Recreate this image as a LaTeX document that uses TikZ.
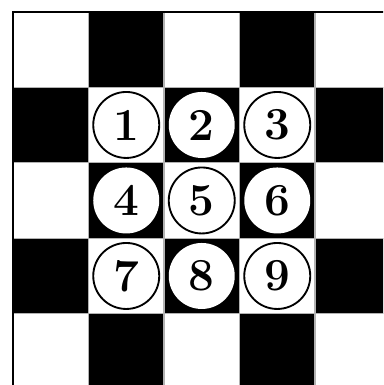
\documentclass[tikz,border=0pt]{standalone}
\usetikzlibrary{positioning}
\tikzset{
  darkcell/.style={fill=black},
  lightcell/.style={fill=white},
  gridline/.style={draw=gray!60,line width=0.4pt},
  frame/.style={draw=black,line width=0.7pt},
  ring/.style={circle,draw=black,fill=white,line width=0.7pt,minimum size=0.874cm,
    inner sep=0pt,font=\LARGE\bfseries},
  hole/.style={circle,fill=white,minimum size=0.874cm,inner sep=0pt,
    font=\LARGE\bfseries}
}

\begin{document}
\begin{tikzpicture}

\useasboundingbox (-0.172,0.056) rectangle (4.901,5.155);
\clip (-0.172,0.056) rectangle (4.901,5.155);

% board squares
\foreach \i in {0,...,4}{
  \foreach \j in {0,...,4}{
    \pgfmathtruncatemacro{\odd}{mod(\i+\j,2)}
    \ifnum\odd=1
      \fill[darkcell] (\j,4-\i) rectangle ++(1,1);
    \else
      \fill[lightcell] (\j,4-\i) rectangle ++(1,1);
    \fi
  }
}
\draw[gridline] (0,0) grid (5,5);
\draw[frame] (0,0) rectangle (5,5);

% numbered pieces
\foreach \r in {1,2,3}{
  \foreach \c in {1,2,3}{
    \pgfmathtruncatemacro{\num}{3*(\r-1)+\c}
    \pgfmathtruncatemacro{\odd}{mod(\r+\c,2)}
    \ifnum\odd=1
      \node[hole] (n\num) at (\c+0.5,4.5-\r) {\num};
    \else
      \node[ring] (n\num) at (\c+0.5,4.5-\r) {\num};
    \fi
  }
}

\end{tikzpicture}
\end{document}
